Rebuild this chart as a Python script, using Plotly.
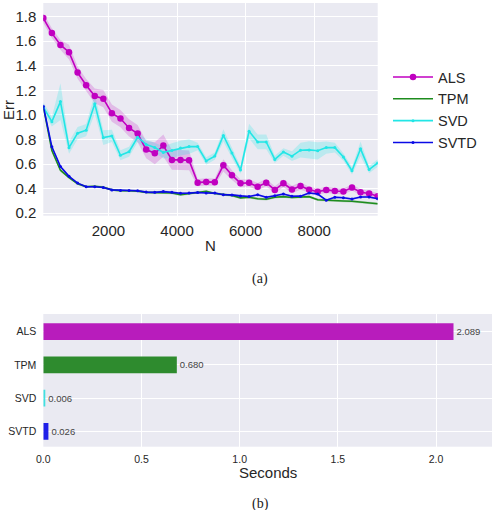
import plotly.graph_objects as go

# ---------------- data ----------------
N = [100, 350, 600, 850, 1100, 1350, 1600, 1850, 2100, 2350,
     2600, 2850, 3100, 3350, 3600, 3850, 4100, 4350, 4600, 4850,
     5100, 5350, 5600, 5850, 6100, 6350, 6600, 6850, 7100, 7350,
     7600, 7850, 8100, 8350, 8600, 8850, 9100, 9350, 9600, 9850]

ALS = [1.787, 1.665, 1.569, 1.51, 1.344, 1.241, 1.154, 1.132, 1.014, 0.97,
       0.894, 0.848, 0.718, 0.688, 0.75, 0.634, 0.634, 0.63, 0.449, 0.455,
       0.453, 0.59, 0.51, 0.444, 0.447, 0.415, 0.449, 0.39, 0.444, 0.393,
       0.422, 0.391, 0.375, 0.39, 0.381, 0.377, 0.409, 0.371, 0.36, 0.338]
ALS_err = [0.04, 0.04, 0.04, 0.06, 0.05, 0.05, 0.06, 0.07, 0.07, 0.07,
           0.07, 0.07, 0.07, 0.09, 0.09, 0.08, 0.08, 0.08, 0.03, 0.03,
           0.03, 0.05, 0.04, 0.03, 0.03, 0.03, 0.03, 0.03, 0.03, 0.03,
           0.03, 0.025, 0.025, 0.025, 0.025, 0.025, 0.025, 0.025, 0.025, 0.025]

TPM = [1.07, 0.71, 0.55, 0.49, 0.44, 0.415, 0.42, 0.412, 0.39, 0.383,
       0.383, 0.38, 0.37, 0.368, 0.372, 0.365, 0.35, 0.36, 0.372, 0.378,
       0.36, 0.35, 0.345, 0.325, 0.33, 0.318, 0.314, 0.33, 0.335, 0.328,
       0.33, 0.335, 0.31, 0.305, 0.302, 0.3, 0.297, 0.29, 0.286, 0.277]
TPM_err = [0.012, 0.012, 0.012, 0.01, 0.01, 0.01, 0.01, 0.01, 0.01, 0.01,
           0.01, 0.01, 0.01, 0.01, 0.01, 0.01, 0.01, 0.01, 0.01, 0.01,
           0.01, 0.01, 0.01, 0.01, 0.01, 0.01, 0.01, 0.01, 0.01, 0.01,
           0.01, 0.01, 0.01, 0.01, 0.01, 0.01, 0.01, 0.01, 0.01, 0.01]

SVD = [1.062, 0.945, 1.108, 0.733, 0.851, 0.876, 1.09, 0.815, 0.829, 0.672,
       0.70, 0.818, 0.76, 0.735, 0.695, 0.71, 0.73, 0.742, 0.743, 0.625,
       0.665, 0.833, 0.69, 0.552, 0.867, 0.78, 0.78, 0.638, 0.698, 0.664,
       0.713, 0.715, 0.708, 0.734, 0.734, 0.657, 0.546, 0.724, 0.555, 0.609]
SVD_err = [0.04, 0.04, 0.15, 0.05, 0.05, 0.05, 0.08, 0.06, 0.05, 0.04,
           0.04, 0.04, 0.04, 0.04, 0.05, 0.06, 0.06, 0.06, 0.03, 0.03,
           0.03, 0.05, 0.04, 0.03, 0.06, 0.06, 0.06, 0.03, 0.03, 0.04,
           0.06, 0.07, 0.07, 0.05, 0.04, 0.03, 0.03, 0.06, 0.03, 0.03]

SVTD = [1.07, 0.74, 0.58, 0.50, 0.445, 0.415, 0.415, 0.41, 0.39, 0.385,
        0.385, 0.383, 0.372, 0.37, 0.376, 0.37, 0.363, 0.364, 0.369, 0.365,
        0.364, 0.35, 0.349, 0.341, 0.336, 0.35, 0.33, 0.342, 0.356, 0.338,
        0.339, 0.365, 0.356, 0.306, 0.33, 0.326, 0.316, 0.332, 0.332, 0.318]
SVTD_err = [0.01, 0.01, 0.01, 0.008, 0.008, 0.008, 0.008, 0.008, 0.008, 0.008,
            0.008, 0.008, 0.008, 0.008, 0.008, 0.008, 0.008, 0.008, 0.008, 0.008,
            0.008, 0.008, 0.008, 0.008, 0.008, 0.008, 0.008, 0.008, 0.008, 0.008,
            0.008, 0.008, 0.008, 0.008, 0.008, 0.008, 0.008, 0.008, 0.008, 0.008]

x_ticks = [2000, 4000, 6000, 8000]
y_ticks = [0.2, 0.4, 0.6, 0.8, 1.0, 1.2, 1.4, 1.6, 1.8]

methods = ["ALS", "TPM", "SVD", "SVTD"]
seconds = [2.089, 0.680, 0.006, 0.026]
sec_ticks = [0.0, 0.5, 1.0, 1.5, 2.0]

# ---------------- styling ----------------
W, H = 492, 510
FONT = "Liberation Sans, Arial, sans-serif"
TXT = "#262626"
BG = "#eaeaf2"

series = [
    ("ALS", ALS, ALS_err, "#c000c0", "rgba(191,0,191,0.2)", "lines+markers", 6.5),
    ("TPM", TPM, TPM_err, "#1e8c1e", "rgba(0,128,0,0.2)", "lines", 0),
    ("SVD", SVD, SVD_err, "#22e6e6", "rgba(0,230,230,0.2)", "lines+markers", 3),
    ("SVTD", SVTD, SVTD_err, "#0a0ae6", "rgba(0,0,255,0.2)", "lines+markers", 3),
]

fig = go.Figure()

# error bands
for name, y, e, col, fcol, mode, ms in series:
    upper = [a + b for a, b in zip(y, e)]
    lower = [a - b for a, b in zip(y, e)]
    fig.add_trace(go.Scatter(x=N, y=upper, mode="lines", line=dict(width=0),
                             showlegend=False, hoverinfo="skip",
                             xaxis="x", yaxis="y"))
    fig.add_trace(go.Scatter(x=N, y=lower, mode="lines", line=dict(width=0),
                             fill="tonexty", fillcolor=fcol,
                             showlegend=False, hoverinfo="skip",
                             xaxis="x", yaxis="y"))

# lines
for name, y, e, col, fcol, mode, ms in series:
    fig.add_trace(go.Scatter(x=N, y=y, mode=mode, name=name,
                             line=dict(color=col, width=1.6),
                             marker=dict(color=col, size=ms if ms else 1),
                             xaxis="x", yaxis="y"))

# bars
bar_colors = ["#b81cbc", "#2e8b2e", "#40e0e0", "#2020e8"]
fig.add_trace(go.Bar(y=methods, x=seconds, orientation="h",
                     marker=dict(color=bar_colors, line=dict(width=0)),
                     width=0.5,
                     text=[f"{v:.3f}" for v in seconds],
                     textposition="outside",
                     textfont=dict(size=9.5, color="#444444", family=FONT),
                     cliponaxis=False, showlegend=False,
                     xaxis="x2", yaxis="y2"))

def px_x(p):
    return p / W

def px_y(p):
    return 1 - p / H

def ann(text, x, y, size=15, angle=0, family=FONT, color=TXT):
    return dict(text=text, x=px_x(x), y=px_y(y), xref="paper", yref="paper",
                xanchor="center", yanchor="middle", textangle=angle,
                showarrow=False, font=dict(size=size, color=color, family=family))

fig.update_layout(
    width=W, height=H,
    margin=dict(l=0, r=0, t=0, b=0),
    paper_bgcolor="white",
    plot_bgcolor=BG,
    font=dict(family=FONT, color=TXT, size=15),
    xaxis=dict(domain=[px_x(43.3), px_x(377.7)], anchor="y",
               range=[N[0], N[-1]], tickvals=x_ticks,
               showgrid=True, gridcolor="white", gridwidth=1.2,
               zeroline=False, showline=False, ticks="", ticklabelstandoff=4,
               tickfont=dict(size=15, color=TXT), automargin=False),
    yaxis=dict(domain=[px_y(215.7), px_y(3)], anchor="x",
               range=[0.18, 1.91], tickvals=y_ticks, tickformat=".1f",
               showgrid=True, gridcolor="white", gridwidth=1.2,
               zeroline=False, showline=False, ticks="", ticklabelstandoff=6,
               tickfont=dict(size=15, color=TXT), automargin=False),
    xaxis2=dict(domain=[px_x(43.3), 1.0], anchor="y2",
                range=[0, 2.285], tickvals=sec_ticks, tickformat=".1f",
                showgrid=True, gridcolor="white", gridwidth=1.2,
                zeroline=False, showline=False, ticks="", ticklabelstandoff=5,
                tickfont=dict(size=10.5, color=TXT), automargin=False),
    yaxis2=dict(domain=[px_y(446.7), px_y(314)], anchor="x2",
                categoryorder="array", categoryarray=methods,
                range=[3.46, -0.53],
                showgrid=True, gridcolor="white", gridwidth=1.2,
                zeroline=False, showline=False, ticks="", ticklabelstandoff=6,
                tickfont=dict(size=10.5, color=TXT), automargin=False),
    legend=dict(x=px_x(388), y=px_y(61), xanchor="left", yanchor="top",
                traceorder="normal",
                bgcolor="rgba(0,0,0,0)", font=dict(size=14.5, color=TXT),
                itemwidth=40, tracegroupgap=0),
    showlegend=True,
    annotations=[
        ann("Err", 8, 110, angle=-90),
        ann("N", 210, 245),
        ann("(a)", 260, 279, size=14, family="Liberation Serif, serif", color="#222222"),
        ann("Seconds", 268, 472),
        ann("(b)", 260, 504, size=14, family="Liberation Serif, serif", color="#222222"),
    ],
)

fig.write_html("out.html")
